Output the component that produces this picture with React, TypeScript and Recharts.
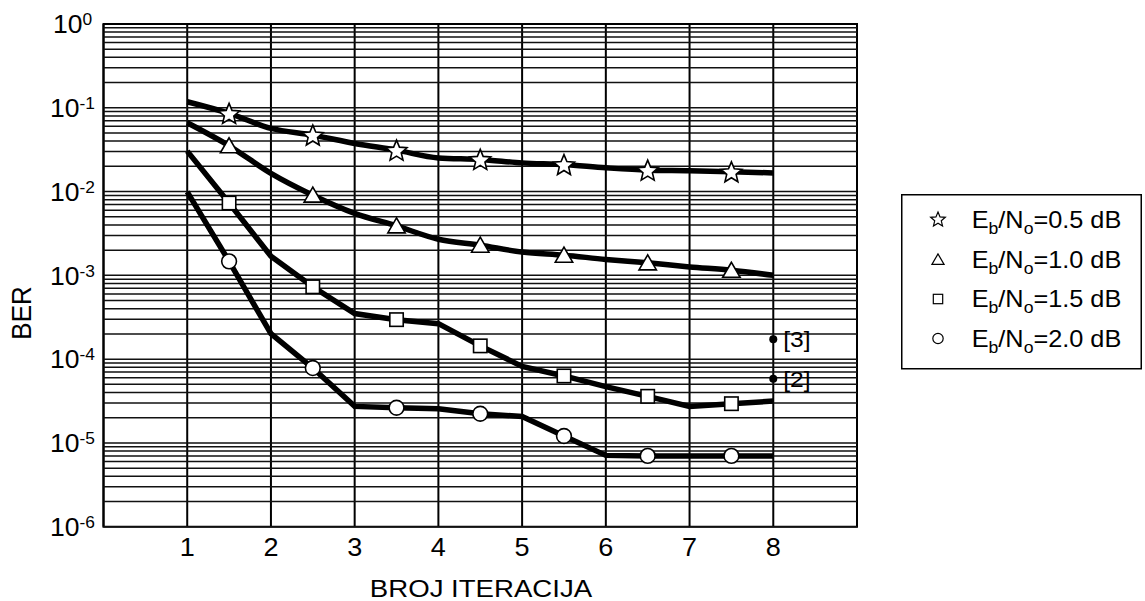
import React from 'react';
import {
  ComposedChart,
  Line,
  XAxis,
  YAxis,
  CartesianGrid,
  ReferenceArea,
  ReferenceDot,
  ReferenceLine,
  Legend,
} from 'recharts';

// ---------- data ----------
const iterations = [1, 1.5, 2, 2.5, 3, 3.5, 4, 4.5, 5, 5.5, 6, 6.5, 7, 7.5, 8];
const ber05 = [0.118, 0.0857, 0.0567, 0.0472, 0.0375, 0.0312, 0.0252, 0.0242, 0.022, 0.021, 0.0192, 0.018, 0.0177, 0.0172, 0.0167];
const ber10 = [0.0662, 0.0352, 0.0165, 0.00906, 0.0055, 0.00389, 0.0027, 0.00229, 0.0019, 0.00174, 0.00155, 0.00141, 0.00126, 0.00115, 0.001];
const ber15 = [0.0304, 0.0073, 0.00169, 0.00073, 0.00035, 0.000296, 0.000265, 0.000144, 0.000082, 0.000063, 0.000047, 0.000036, 0.0000273, 0.0000294, 0.0000316];
const ber20 = [0.0099, 0.00147, 0.000201, 0.0000783, 0.0000273, 0.0000263, 0.0000256, 0.0000223, 0.0000207, 0.0000121, 0.0000071, 0.000007, 0.000007, 0.000007, 0.000007];

const seriesKeys = ['s05', 's10', 's15', 's20'];
const seriesSnr = ['0.5', '1.0', '1.5', '2.0'];
const seriesMarkers = ['star', 'triangle', 'square', 'circle'];
const seriesCurve = ['monotone', 'monotone', 'linear', 'linear'];

const xTicks = [1, 2, 3, 4, 5, 6, 7, 8];
const xDomain = [0, 9];
const yTicks = [1e-6, 1e-5, 1e-4, 1e-3, 1e-2, 1e-1, 1];
const minorMultipliers = [1, 2, 3, 4, 5, 6, 7, 8, 9];

const refX = 8;
const refValues = [1.73e-4, 5.85e-5];
const refLabels = ['[3]', '[2]'];

const xTitle = 'BROJ ITERACIJA';
const yTitle = 'BER';

// ---------- derived tables ----------
const rows = iterations.map((x, i) => ({
  x,
  s05: ber05[i],
  s10: ber10[i],
  s15: ber15[i],
  s20: ber20[i],
}));

const gridValues: number[] = [];
yTicks.slice(0, -1).forEach((d) => minorMultipliers.forEach((m) => gridValues.push(d * m)));

// ---------- styling ----------
const FONT = "'Liberation Sans', Arial, Helvetica, sans-serif";

function starPoints(cx: number, cy: number, R: number, ratio: number) {
  const pts: string[] = [];
  for (let i = 0; i < 10; i++) {
    const a = (-90 + i * 36) * (Math.PI / 180);
    const r = i % 2 === 0 ? R : R * ratio;
    pts.push(`${cx + r * Math.cos(a)},${cy + r * Math.sin(a)}`);
  }
  return pts.join(' ');
}

function Marker({ kind, cx, cy, scale = 1, sw = 1.6 }: any) {
  const common = { fill: '#fff', stroke: '#000', strokeWidth: sw };
  if (kind === 'star') {
    return <polygon points={starPoints(cx, cy + 1 * scale, 11 * scale, 0.45)} {...common} strokeLinejoin="miter" />;
  }
  if (kind === 'triangle') {
    const h = 8 * scale;
    const w = 8.7 * scale;
    return <polygon points={`${cx},${cy - h} ${cx - w},${cy + 7 * scale} ${cx + w},${cy + 7 * scale}`} {...common} />;
  }
  if (kind === 'square') {
    const s = 6.7 * scale;
    return <rect x={cx - s} y={cy - s} width={2 * s} height={2 * s} {...common} />;
  }
  return <circle cx={cx} cy={cy} r={7.4 * scale} {...common} />;
}

const makeDot = (kind: string) => (props: any) => {
  const { cx, cy, payload, index } = props;
  const isHalf = payload && Math.abs(payload.x - Math.floor(payload.x) - 0.5) < 1e-6;
  if (cx == null || cy == null || !isHalf) return <g key={`d-${kind}-${index}`} />;
  return (
    <g key={`d-${kind}-${index}`}>
      <Marker kind={kind} cx={cx} cy={cy} />
    </g>
  );
};

const XTick = (props: any) => {
  const { x, payload } = props;
  return (
    <text
      transform={`translate(${x},556) scale(1.04,1)`}
      textAnchor="middle"
      fontSize={26}
      fontFamily={FONT}
      fill="#000"
    >
      {payload.value}
    </text>
  );
};

const YTick = (props: any) => {
  const { y, payload } = props;
  const exp = Math.round(Math.log10(payload.value));
  return (
    <text
      transform={`translate(72.5,${y + 9.3}) scale(1.02,1)`}
      textAnchor="middle"
      fontSize={26}
      fontFamily={FONT}
      fill="#000"
    >
      10
      <tspan fontSize={17} dy={-8}>
        {exp}
      </tspan>
    </text>
  );
};

const XTitle = () => (
  <text
    transform={`translate(481,597) scale(1.15,1)`}
    textAnchor="middle"
    fontSize={24}
    fontFamily={FONT}
    fill="#000"
  >
    {xTitle}
  </text>
);

const YTitle = () => (
  <text
    transform={`translate(31,313) rotate(-90) scale(1.08,1.12)`}
    textAnchor="middle"
    fontSize={24}
    fontFamily={FONT}
    fill="#000"
  >
    {yTitle}
  </text>
);

const LegendBox = () => {
  const rowY = [26, 65.5, 105, 144.5];
  return (
    <svg width={242} height={178} style={{ display: 'block' }}>
      <rect x={0.75} y={0.75} width={239.5} height={174} fill="#fff" stroke="#000" strokeWidth={1.5} />
      {seriesKeys.map((k, i) => (
        <g key={k}>
          <Marker kind={seriesMarkers[i]} cx={37} cy={rowY[i] + (seriesMarkers[i] === 'star' ? -1 : 0)} scale={0.7} sw={1.2} />
          <text
            transform={`translate(70.7,${rowY[i] + 8.2}) scale(1.1,1)`}
            fontSize={23}
            fontFamily={FONT}
            fill="#000"
          >
            E
            <tspan fontSize={16} dy={6}>b</tspan>
            <tspan dy={-6}>/N</tspan>
            <tspan fontSize={16} dy={6}>o</tspan>
            <tspan dy={-6}>{`=${seriesSnr[i]} dB`}</tspan>
          </text>
        </g>
      ))}
    </svg>
  );
};

const RefShape = (label: string) => (props: any) => {
  const { cx, cy } = props;
  return (
    <g>
      <circle cx={cx} cy={cy} r={4} fill="#000" />
      <text
        transform={`translate(${cx + 10},${cy + 8}) scale(1.12,1)`}
        fontSize={22}
        fontFamily={FONT}
        fill="#000"
      >
        {label}
      </text>
    </g>
  );
};

export default function App() {
  return (
    <div style={{ position: 'absolute', left: 0, top: 0, width: 1145, height: 601, background: '#fff' }}>
      <ComposedChart
        width={1145}
        height={601}
        data={rows}
        margin={{ top: 24, right: 288, left: 13.5, bottom: 44.3 }}
      >
        <CartesianGrid horizontal={false} vertical={true} stroke="#000" strokeWidth={2} strokeOpacity={1} />
        <XAxis
          dataKey="x"
          type="number"
          domain={xDomain}
          ticks={xTicks}
          allowDataOverflow
          tickLine={false}
          axisLine={false}
          height={30}
          tick={XTick}
          label={XTitle}
        />
        <YAxis
          type="number"
          scale="log"
          domain={[yTicks[0], yTicks[yTicks.length - 1]]}
          ticks={yTicks}
          allowDataOverflow
          tickLine={false}
          axisLine={false}
          width={90}
          tick={YTick}
          label={YTitle}
        />
        {gridValues.map((v, i) => (
          <ReferenceLine key={`g-${i}`} y={v} stroke="#111" strokeWidth={1.5} strokeOpacity={1} />
        ))}
        <ReferenceArea
          x1={xDomain[0]}
          x2={xDomain[1]}
          y1={yTicks[0]}
          y2={yTicks[yTicks.length - 1]}
          fill="none"
          fillOpacity={0}
          stroke="#000"
          strokeWidth={2}
          strokeOpacity={1}
        />
        {seriesKeys.map((k, i) => (
          <Line
            key={k}
            dataKey={k}
            type={seriesCurve[i] as any}
            stroke="#000"
            strokeWidth={5.5}
            dot={makeDot(seriesMarkers[i])}
            activeDot={false}
            isAnimationActive={false}
            legendType="none"
          />
        ))}
        {refValues.map((v, i) => (
          <ReferenceDot key={refLabels[i]} x={refX} y={v} r={4} shape={RefShape(refLabels[i])} />
        ))}
        <Legend
          layout="horizontal"
          align="center"
          verticalAlign="middle"
          content={LegendBox}
          wrapperStyle={{ left: 901, top: 194, width: 242, height: 178, right: 'auto', bottom: 'auto', margin: 0 }}
        />
      </ComposedChart>
    </div>
  );
}
